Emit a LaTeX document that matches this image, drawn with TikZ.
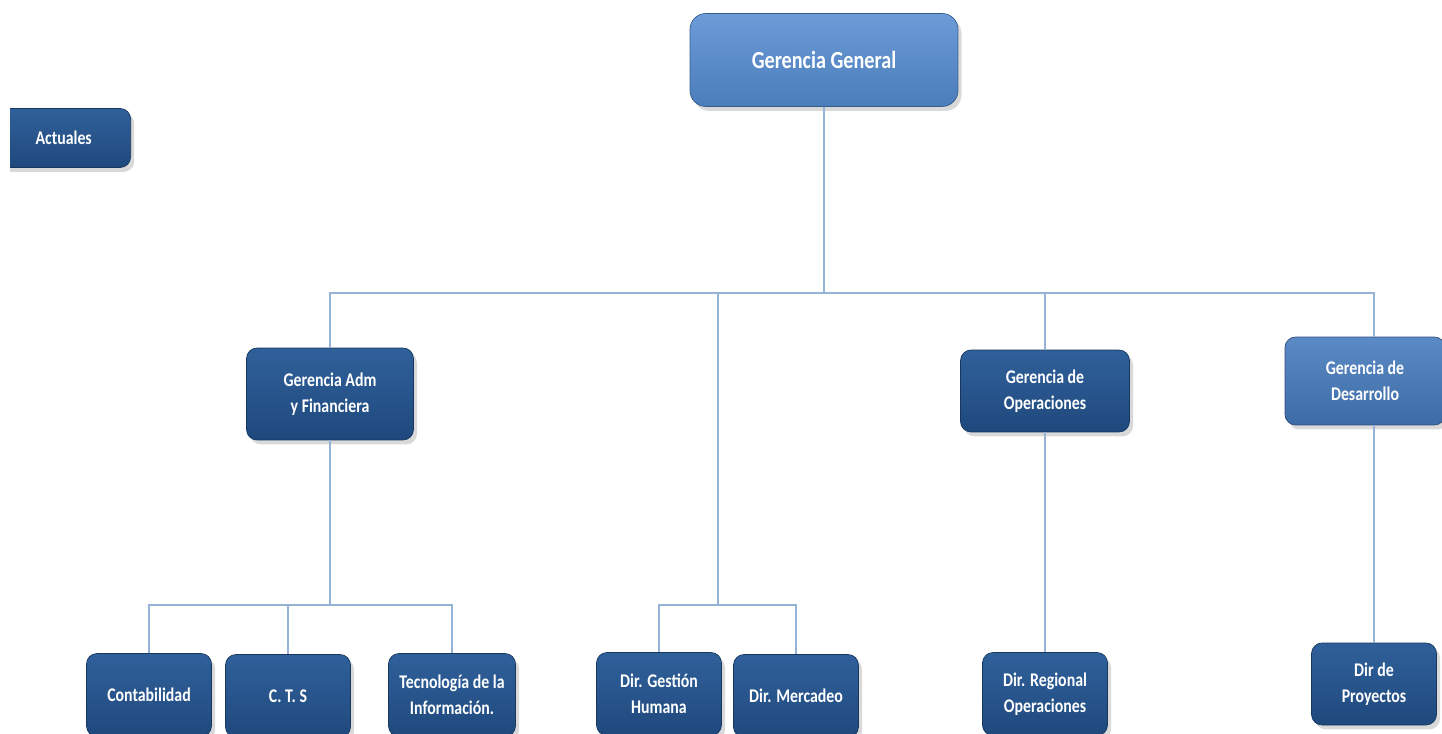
\documentclass[tikz,border=0pt]{standalone}
\usepackage{fontspec}
\setmainfont{Carlito}[FakeStretch=0.82]
\usetikzlibrary{shadows}

\definecolor{darkbox}{HTML}{1F497D}
\definecolor{darkboxtop}{HTML}{30609A}
\definecolor{lightbox}{HTML}{4A7DBA}
\definecolor{lightboxtop}{HTML}{6C9CD8}
\definecolor{midbox}{HTML}{3D6BA5}
\definecolor{midboxtop}{HTML}{5B8AC6}
\definecolor{linkblue}{HTML}{95B3D7}

\tikzset{
	unit/.style={draw=darkbox!75!black, rounded corners=6pt, top color=darkboxtop, bottom color=darkbox,
		text=white, align=center, inner sep=1pt, minimum width=2.5cm, minimum height=1.66cm,
		font=\bfseries\fontsize{11}{14.5}\selectfont,
		drop shadow={shadow xshift=2pt, shadow yshift=-2.5pt, opacity=0.3}},
	topunit/.style={unit, draw=lightbox!75!black, top color=lightboxtop, bottom color=lightbox,
		rounded corners=9pt, font=\bfseries\fontsize{14}{17}\selectfont},
	link/.style={draw=linkblue, line width=1.1pt},
}

\begin{document}
\begin{tikzpicture}[x=0.02cm, y=-0.02cm]
		\useasboundingbox (0,0) rectangle (1442,733);
		%legend, cut at the left
		\begin{scope}
			\clip (10,90) rectangle (150,190);
			\node[unit, minimum width=3.02cm, minimum height=1.18cm, anchor=east] (actuales) at (131,138) {\hspace*{0.34cm}Actuales};
		\end{scope}
		%top
		\node[topunit, minimum width=5.36cm, minimum height=1.86cm] (gg) at (824,60) {Gerencia General};
		%gerencias
		\node[unit, minimum width=3.34cm, minimum height=1.84cm] (adm) at (330,394) {Gerencia Adm\\ y Financiera};
		\node[unit, minimum width=3.38cm, minimum height=1.64cm] (ope) at (1045,391) {Gerencia de\\Operaciones};
		\node[unit, draw=midbox!75!black, top color=midboxtop, bottom color=midbox, minimum width=3.2cm, minimum height=1.76cm] (des) at (1365,381) {Gerencia de\\Desarrollo};
		%direcciones
		\node[unit] (cont) at (149,695) {Contabilidad};
		\node[unit] (cts) at (288,696) {C. T. S};
		\node[unit, minimum width=2.54cm] (tec) at (452,695) {Tecnología de la\\Información.};
		\node[unit] (gh) at (659,694) {Dir. Gestión\\Humana};
		\node[unit] (mer) at (796,696) {Dir. Mercadeo};
		\node[unit] (reg) at (1045,694) {Dir. Regional\\Operaciones};
		\node[unit, minimum height=1.64cm] (proy) at (1374,684) {Dir de\\Proyectos};
		%buses
		\coordinate (hub) at (824,293);
		\coordinate (midhub) at (718,293);
		\coordinate (midbus) at (718,605);
		\coordinate (admbus) at (330,605);
		%links
		\draw[link] (gg.south) -- (hub);
		\draw[link] (adm.north) |- (hub) -| (proy.north |- des.north);
		\draw[link] (ope.north |- hub) -- (ope.north);
		\draw[link] (midhub) -- (midbus);
		\draw[link] (gh.north) |- (midbus) -| (mer.north);
		\draw[link] (adm.south) -- (admbus);
		\draw[link] (cont.north) |- (admbus) -| (tec.north);
		\draw[link] (cts.north |- admbus) -- (cts.north);
		\draw[link] (ope.south) -- (reg.north);
		\draw[link] (des.south -| proy.north) -- (proy.north);
	\end{tikzpicture}
\end{document}
